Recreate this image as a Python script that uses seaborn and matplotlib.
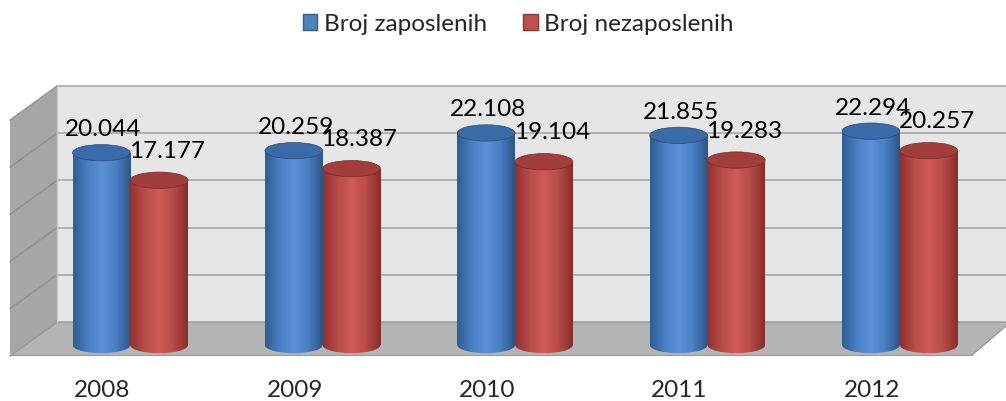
import numpy as np
import pandas as pd
import matplotlib
matplotlib.use("Agg")
import matplotlib.pyplot as plt
import matplotlib.transforms as mtransforms
from matplotlib.patches import Polygon, Ellipse, Patch
from matplotlib.colors import LinearSegmentedColormap
import seaborn as sns

# podaci
godine = ["2008", "2009", "2010", "2011", "2012"]
zaposleni = [20.044, 20.259, 22.108, 21.855, 22.294]
nezaposleni = [17.177, 18.387, 19.104, 19.283, 20.257]
serije = ["Broj zaposlenih", "Broj nezaposlenih"]

plava = "#4F81BD"
crvena = "#C0504D"

sns.set_style("white")
plt.rcParams["font.family"] = ["Lato", "DejaVu Sans"]

df = pd.DataFrame({
    "godina": godine * 2,
    "serija": [serije[0]] * 5 + [serije[1]] * 5,
    "vrijednost": zaposleni + nezaposleni,
})

fig = plt.figure(figsize=(10.06, 4.01), dpi=100)

# pozadina: zidovi i pod (u pikselima)
bg = fig.add_axes([0, 0, 1, 1])
bg.set_xlim(0, 1006)
bg.set_ylim(401, 0)
bg.axis("off")

zid_top, zid_bot, zid_lijevo = 86, 322, 57
bg.add_patch(Polygon([(zid_lijevo, zid_top), (1006, zid_top), (1006, zid_bot), (zid_lijevo, zid_bot)],
                     closed=True, facecolor="#e6e6e6", edgecolor="none"))
bg.add_patch(Polygon([(10, 120), (zid_lijevo, zid_top), (zid_lijevo, zid_bot), (10, 355)],
                     closed=True, facecolor="#a6a6a6", edgecolor="none"))
bg.add_patch(Polygon([(10, 355), (zid_lijevo, zid_bot), (1006, zid_bot), (1006, 326), (972, 355)],
                     closed=True, facecolor="#b4b4b4", edgecolor="none"))
for yy in np.linspace(zid_top, zid_bot, 6):
    bg.plot([zid_lijevo, 1006], [yy, yy], color="#8c8c8c", lw=1.2, alpha=0.7)
    bg.plot([10, zid_lijevo], [yy + 34, yy], color="#8c8c8c", lw=1.2, alpha=0.7)
bg.plot([zid_lijevo, zid_lijevo], [zid_top, zid_bot], color="#c8c8c8", lw=1)
bg.plot([972, 1006], [355, 326], color="#9a9a9a", lw=1)

# stupci
ax = fig.add_axes([10 / 1006, (401 - 355) / 401, 962 / 1006, 269 / 401])
ax.patch.set_alpha(0)
sns.barplot(data=df, x="godina", y="vrijednost", hue="serija", palette=[plava, crvena],
            width=0.6, legend=False, ax=ax, saturation=1)
ax.set_xlim(-0.625, 4.375)
ax.set_ylim(-1.04, 27.0)

cmaps = {
    plava: LinearSegmentedColormap.from_list("p", ["#2f5c94", "#4a7fc4", "#5b90d6", "#4a7fc4", "#2c5588"]),
    crvena: LinearSegmentedColormap.from_list("c", ["#8f3331", "#b94b48", "#d05b58", "#b94b48", "#862e2c"]),
}
vrh_boje = {plava: "#3b6aa8", crvena: "#a13d3a"}
grad = np.linspace(0, 1, 64).reshape(1, -1)
eh = 1.7

bars = list(ax.patches)
for i, bar in enumerate(bars):
    boja = plava if i < 5 else crvena
    x0, w, h = bar.get_x(), bar.get_width(), bar.get_height()
    bar.set_facecolor("none")
    bar.set_edgecolor("none")
    dno = Ellipse((x0 + w / 2, 0), w, eh, transform=ax.transData, facecolor="none", edgecolor="none")
    ax.add_patch(dno)
    for clip in (bar, dno):
        im = ax.imshow(grad, cmap=cmaps[boja], aspect="auto",
                       extent=(x0, x0 + w, -eh, h), zorder=2)
        im.set_clip_path(clip)
    ax.add_patch(Ellipse((x0 + w / 2, h), w, eh, facecolor=vrh_boje[boja],
                         edgecolor="#2a4d7a" if boja == plava else "#7d2c2a", lw=0.5, zorder=3))
    dx = 2 if i < 5 else 8
    dy = 23 if i < 5 else 29
    ax.annotate(f"{h:.3f}", (x0 + w / 2, h), xytext=(dx, dy), textcoords="offset pixels",
                ha="center", va="center", fontsize=17.5, color="black", zorder=5)

ax.set_xlim(-0.625, 4.375)
ax.set_ylim(-1.04, 27.0)
ax.set_xlabel("")
ax.set_ylabel("")
ax.set_yticks([])
ax.set_xticks(range(5))
ax.set_xticklabels(godine, fontsize=17.5)
ax.set_xticks(np.arange(6) - 0.625, minor=True)
ax.tick_params(axis="x", which="major", length=0, pad=18)
ax.tick_params(axis="x", which="minor", length=7, color="#8c8c8c", width=1)
pomak = mtransforms.ScaledTranslation(-0.28, 0, fig.dpi_scale_trans)
for lbl in ax.get_xticklabels():
    lbl.set_transform(lbl.get_transform() + pomak)
for s in ["top", "right", "left"]:
    ax.spines[s].set_visible(False)
ax.spines["bottom"].set_color("#9a9a9a")

handles = [Patch(facecolor=plava, edgecolor="#385d8a"), Patch(facecolor=crvena, edgecolor="#8c3836")]
fig.legend(handles, serije, loc="center", bbox_to_anchor=(0.515, 0.94), ncol=2, frameon=False,
           fontsize=17.5, handlelength=0.6, handleheight=0.6, handletextpad=0.25, columnspacing=1.5)

fig.savefig("out.png", dpi=100)
